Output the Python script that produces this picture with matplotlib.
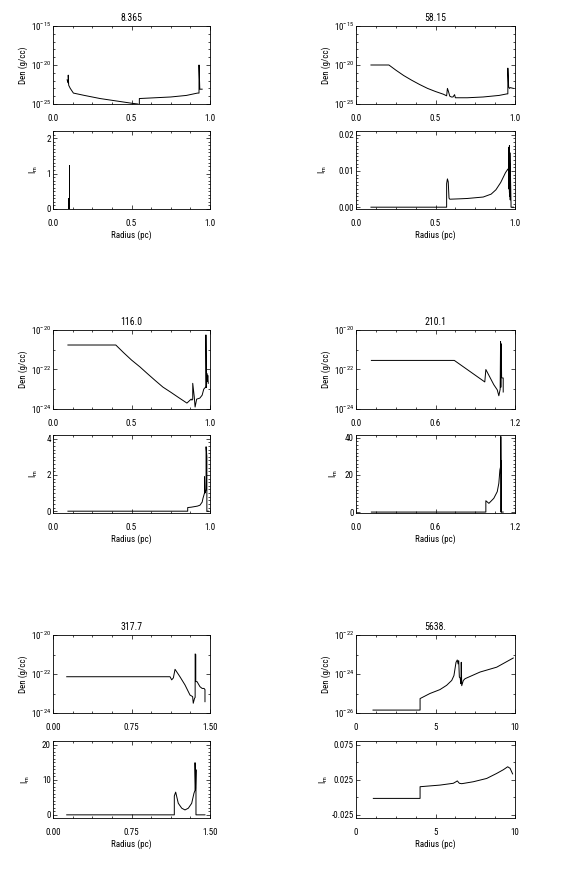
import matplotlib
matplotlib.use("Agg")
import matplotlib.pyplot as plt
import numpy as np
from matplotlib.ticker import FixedLocator, AutoMinorLocator, FuncFormatter

FONT = 'Roboto Condensed'
plt.rcParams['font.family'] = [FONT, 'DejaVu Sans']
plt.rcParams['mathtext.fontset'] = 'custom'
plt.rcParams['mathtext.rm'] = FONT
plt.rcParams['mathtext.it'] = FONT

# --- data (radius in pc, log10 density in g/cc, I_m) ---
titles = ["8.365", "58.15", "116.0", "210.1", "317.7", "5638."]

r_den1 = [0.09, 0.095, 0.097, 0.097, 0.10, 0.11, 0.13, 0.2, 0.3, 0.4, 0.5, 0.54, 0.55, 0.55,
          0.6, 0.75, 0.85, 0.92, 0.93, 0.93, 0.935, 0.95]
den1 = [-21.9, -22.2, -22.3, -21.3, -22.6, -23.0, -23.6, -23.9, -24.3, -24.6, -24.9, -25.0,
        -25.1, -24.3, -24.25, -24.1, -23.9, -23.6, -23.6, -20.0, -23.1, -23.1]
r_im1 = [0.09, 0.095, 0.095, 0.098, 0.098, 0.10, 0.10, 0.102, 0.102, 0.95]
im1 = [0, 0, 0.3, 0.3, 0, 0, 1.25, 1.25, 0, 0]

r_den2 = [0.094, 0.207, 0.25, 0.3, 0.35, 0.4, 0.45, 0.5, 0.55, 0.57, 0.575, 0.58, 0.59, 0.6,
          0.61, 0.62, 0.625, 0.63, 0.64, 0.7, 0.8, 0.9, 0.95, 0.955, 0.955, 0.96, 0.965,
          0.97, 0.99]
den2 = [-20.0, -20.0, -20.65, -21.35, -21.95, -22.5, -23.0, -23.4, -23.75, -23.95, -23.0,
        -23.3, -24.0, -24.1, -24.1, -23.8, -24.2, -24.2, -24.2, -24.2, -24.1, -23.9, -23.7,
        -23.7, -20.4, -22.8, -23.0, -22.9, -23.0]
r_im2 = [0.094, 0.57, 0.57, 0.575, 0.58, 0.585, 0.59, 0.65, 0.7, 0.75, 0.8, 0.85, 0.88,
         0.91, 0.94, 0.955, 0.96, 0.96, 0.962, 0.962, 0.965, 0.965, 0.968, 0.968, 0.97,
         0.97, 0.975, 0.975, 0.99]
im2 = [0, 0, 0.0065, 0.0078, 0.0070, 0.0025, 0.0022, 0.0023, 0.0024, 0.0026, 0.0028,
       0.0036, 0.0048, 0.0068, 0.0095, 0.0105, 0.0100, 0.0165, 0.005, 0.016, 0.004, 0.017,
       0.003, 0.015, 0.002, 0.012, 0.001, 0.0, 0.0]

r_den3 = [0.095, 0.40, 0.45, 0.5, 0.554, 0.6, 0.65, 0.7, 0.75, 0.8, 0.853, 0.88, 0.885,
          0.89, 0.89, 0.9, 0.905, 0.915, 0.935, 0.95, 0.96, 0.965, 0.972, 0.974, 0.974,
          0.977, 0.98, 0.983, 0.986, 0.989]
den3 = [-20.76, -20.76, -21.15, -21.52, -21.87, -22.2, -22.55, -22.89, -23.15, -23.42,
        -23.7, -23.5, -23.55, -23.5, -22.7, -23.4, -23.9, -23.5, -23.45, -23.3, -23.0,
        -22.95, -22.9, -22.9, -20.25, -22.9, -22.2, -22.6, -22.3, -22.7]
r_im3 = [0.095, 0.858, 0.858, 0.88, 0.9, 0.92, 0.936, 0.95, 0.955, 0.96, 0.965, 0.965,
         0.968, 0.972, 0.975, 0.975, 0.98, 0.98, 0.99]
im3 = [0, 0, 0.2, 0.22, 0.25, 0.28, 0.33, 0.5, 0.7, 0.85, 1.0, 1.9, 1.0, 1.1, 1.2, 3.55,
       3.0, 0.0, 0.0]

r_den4 = [0.116, 0.742, 0.972, 0.98, 1.04, 1.066, 1.078, 1.088, 1.091, 1.093, 1.096,
          1.099, 1.104, 1.111, 1.111]
den4 = [-21.54, -21.54, -22.63, -22.0, -22.77, -23.03, -23.33, -23.0, -20.58, -22.9,
        -20.7, -22.4, -22.43, -22.43, -23.14]
r_im4 = [0.116, 0.98, 0.98, 1.003, 1.04, 1.066, 1.078, 1.086, 1.093, 1.093, 1.095, 1.097,
         1.097, 1.111]
im4 = [0, 0, 6.1, 4.7, 7.4, 11, 15.5, 22.7, 25, 40.7, 0, 27.6, 0, 0]

r_den5 = [0.131, 1.118, 1.134, 1.15, 1.166, 1.213, 1.261, 1.309, 1.334, 1.34, 1.352,
          1.358, 1.358, 1.364, 1.364, 1.376, 1.404, 1.425, 1.443, 1.452, 1.452]
den5 = [-22.14, -22.14, -22.3, -22.2, -21.76, -22.14, -22.56, -23.08, -23.16, -23.5,
        -23.25, -23.2, -20.97, -21.0, -22.39, -22.39, -22.65, -22.74, -22.74, -22.8, -23.42]
r_im5 = [0.131, 1.159, 1.159, 1.172, 1.197, 1.23, 1.261, 1.293, 1.325, 1.347, 1.357,
         1.357, 1.362, 1.366, 1.366, 1.373, 1.452]
im5 = [0, 0, 5.4, 6.5, 3.3, 1.9, 1.4, 1.9, 3.3, 6.2, 7.0, 14.9, 7.5, 12.9, 0, 0, 0]

r_den6 = [1.07, 4.03, 4.03, 4.65, 5.28, 5.70, 6.02, 6.16, 6.29, 6.37, 6.42, 6.46, 6.50,
          6.55, 6.6, 6.62, 6.65, 6.75, 6.86, 7.80, 8.85, 9.89]
den6 = [-25.85, -25.85, -25.26, -25.0, -24.8, -24.58, -24.33, -24.08, -23.4, -23.28,
        -23.48, -23.32, -24.16, -24.2, -24.5, -23.4, -24.6, -24.33, -24.24, -23.9,
        -23.65, -23.18]
r_im6 = [1.09, 4.03, 4.03, 5.28, 6.12, 6.29, 6.37, 6.5, 6.65, 7.38, 8.22, 8.85, 9.27,
         9.54, 9.69, 9.79, 9.85]
im6 = [-0.002, -0.002, 0.0147, 0.017, 0.0196, 0.0218, 0.023, 0.0196, 0.019, 0.0218,
       0.0265, 0.0337, 0.039, 0.0432, 0.041, 0.036, 0.033]

den_r = [r_den1, r_den2, r_den3, r_den4, r_den5, r_den6]
den_v = [den1, den2, den3, den4, den5, den6]
im_r = [r_im1, r_im2, r_im3, r_im4, r_im5, r_im6]
im_v = [im1, im2, im3, im4, im5, im6]

# axis settings per panel
x_lims = [(0, 1.0), (0, 1.0), (0, 1.0), (0, 1.2), (0, 1.5), (0, 10)]
x_ticks = [[0, 0.5, 1.0], [0, 0.5, 1.0], [0, 0.5, 1.0], [0, 0.6, 1.2], [0, 0.75, 1.5], [0, 5, 10]]
x_ticklabels = [["0.0", "0.5", "1.0"]] * 3 + [["0.0", "0.6", "1.2"], ["0.00", "0.75", "1.50"],
                                              ["0", "5", "10"]]
den_decades = [(-25, -15, 5), (-25, -15, 5), (-24, -20, 2), (-24, -20, 2), (-24, -20, 2),
               (-26, -22, 2)]
im_lims = [(0, 2.2), (-0.0005, 0.021), (-0.1, 4.2), (-0.5, 41.5), (-0.9, 21.1), (-0.03, 0.08)]
im_ticks = [[0, 1, 2], [0, 0.01, 0.02], [0, 2, 4], [0, 20, 40], [0, 10, 20],
            [-0.025, 0.025, 0.075]]
im_ticklabels = [["0", "1", "2"], ["0.00", "0.01", "0.02"], ["0", "2", "4"], ["0", "20", "40"],
                 ["0", "10", "20"], ["-0.025", "0.025", "0.075"]]
im_label_x = [-0.083, -0.17, -0.083, -0.10, -0.134, -0.165]

W, H = 567, 871
col_x = [(53, 210), (356, 515)]
row_y = [((26, 104), (131, 209)), ((330, 409), (435, 513)), ((635, 713), (741, 818))]

fig = plt.figure(figsize=(W / 100, H / 100), dpi=100)
FS = 6.5


def px_axes(x0, x1, y0, y1):
    return fig.add_axes([x0 / W, 1 - y1 / H, (x1 - x0) / W, (y1 - y0) / H])


def style(ax):
    for s in ax.spines.values():
        s.set_linewidth(0.6)
    ax.tick_params(which='both', direction='in', top=True, right=True, labelsize=FS,
                   width=0.5)
    ax.tick_params(which='major', length=3)
    ax.tick_params(which='minor', length=1.5)
    ax.tick_params(axis='x', pad=7)
    ax.tick_params(axis='y', pad=1.5)


for i in range(6):
    row, col = divmod(i, 2)
    (xa, xb) = col_x[col]
    (top, bot) = row_y[row]

    # density panel
    ax = px_axes(xa, xb, *top)
    ax.plot(den_r[i], 10 ** np.array(den_v[i]), color='black', lw=0.7)
    ax.set_yscale('log')
    lo, hi, step = den_decades[i]
    ax.set_ylim(10.0 ** lo, 10.0 ** hi)
    ax.yaxis.set_major_locator(FixedLocator([10.0 ** k for k in range(lo, hi + 1, step)]))
    ax.yaxis.set_minor_locator(FixedLocator([10.0 ** k for k in range(lo, hi + 1)]))
    ax.yaxis.set_major_formatter(FuncFormatter(lambda v, p: r'$10^{%d}$' % round(np.log10(v))))
    ax.yaxis.set_minor_formatter(FuncFormatter(lambda v, p: ''))
    ax.set_xlim(*x_lims[i])
    ax.set_xticks(x_ticks[i])
    ax.set_xticklabels(x_ticklabels[i])
    ax.xaxis.set_minor_locator(AutoMinorLocator(4))
    style(ax)
    ax.set_ylabel('Den (g/cc)', fontsize=FS)
    ax.yaxis.set_label_coords(-0.16, 0.5)
    ax.set_title(titles[i], fontsize=7, pad=3.5)

    # I_m panel
    ax2 = px_axes(xa, xb, *bot)
    ax2.plot(im_r[i], im_v[i], color='black', lw=0.7)
    ax2.set_xlim(*x_lims[i])
    ax2.set_xticks(x_ticks[i])
    ax2.set_xticklabels(x_ticklabels[i])
    ax2.xaxis.set_minor_locator(AutoMinorLocator(4))
    ax2.set_ylim(*im_lims[i])
    ax2.set_yticks(im_ticks[i])
    ax2.set_yticklabels(im_ticklabels[i])
    ax2.yaxis.set_minor_locator(AutoMinorLocator(10 if i < 5 else 2))
    style(ax2)
    ax2.set_ylabel(r'I$_m$', fontsize=FS)
    ax2.yaxis.set_label_coords(im_label_x[i], 0.5)
    ax2.set_xlabel('Radius (pc)', fontsize=FS, labelpad=2)

fig.savefig('out.png', dpi=100)
